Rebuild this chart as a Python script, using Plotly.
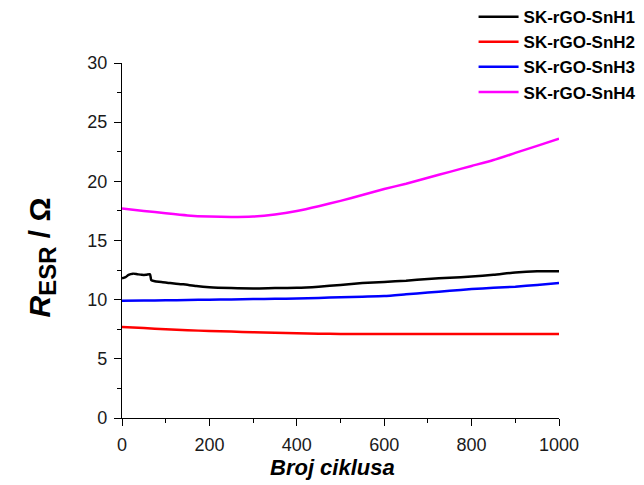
import plotly.graph_objects as go

cycles_h1 = [0, 8, 15, 25, 35, 45, 55, 64, 67, 75, 90, 110, 140, 170, 200, 250, 300, 350, 400, 450, 500, 550, 600, 650, 700, 750, 800, 850, 900, 950, 1000]
resr_h1 = [11.8, 11.9, 12.1, 12.2, 12.15, 12.1, 12.1, 12.15, 11.65, 11.55, 11.5, 11.4, 11.3, 11.15, 11.05, 10.98, 10.95, 10.98, 11.0, 11.1, 11.25, 11.4, 11.5, 11.6, 11.75, 11.85, 11.95, 12.1, 12.3, 12.4, 12.4]

cycles = [0, 50, 100, 150, 200, 250, 300, 350, 400, 450, 500, 550, 600, 650, 700, 750, 800, 850, 900, 950, 1000]
resr_h2 = [7.7, 7.6, 7.5, 7.42, 7.35, 7.3, 7.25, 7.2, 7.16, 7.13, 7.1, 7.1, 7.1, 7.1, 7.1, 7.1, 7.1, 7.1, 7.1, 7.1, 7.1]
resr_h3 = [9.9, 9.92, 9.95, 9.97, 10.0, 10.02, 10.05, 10.07, 10.1, 10.15, 10.2, 10.25, 10.3, 10.45, 10.6, 10.75, 10.9, 11.0, 11.1, 11.25, 11.4]
resr_h4 = [17.7, 17.5, 17.3, 17.12, 17.02, 16.98, 17.02, 17.2, 17.5, 17.9, 18.35, 18.85, 19.35, 19.8, 20.3, 20.8, 21.3, 21.8, 22.4, 23.0, 23.6]

names = ["SK-rGO-SnH1", "SK-rGO-SnH2", "SK-rGO-SnH3", "SK-rGO-SnH4"]
colors = ["#000000", "#ff0000", "#0000ff", "#ff00ff"]

x_title = "<b><i>Broj ciklusa</i></b>"
y_title = "<b><i>R</i><sub><span style='font-size:24px'>ESR</span></sub> / Ω</b>"

FONT = "Arial, Liberation Sans, sans-serif"

fig = go.Figure()
series = [(cycles_h1, resr_h1), (cycles, resr_h2), (cycles, resr_h3), (cycles, resr_h4)]
for (xs, ys), n, c in zip(series, names, colors):
    fig.add_trace(go.Scatter(x=xs, y=ys, mode="lines", name=n,
                             line=dict(color=c, width=2.5, shape="spline", smoothing=0.6)))

axis_common = dict(
    showline=True, linecolor="black", linewidth=1.2, mirror=False,
    ticks="outside", ticklen=7, tickwidth=1.2, tickcolor="black",
    showgrid=False, zeroline=False,
    tickfont=dict(family=FONT, size=18, color="#1a1a1a"),
)

fig.update_xaxes(range=[0, 1000], tickvals=[0, 200, 400, 600, 800, 1000],
                 minor=dict(ticks="outside", ticklen=4, tickwidth=1.2, tickcolor="black", dtick=100, tick0=0),
                 ticklabelstandoff=3, **axis_common)
fig.update_yaxes(range=[0, 30], tickvals=[0, 5, 10, 15, 20, 25, 30],
                 minor=dict(ticks="outside", ticklen=4, tickwidth=1.2, tickcolor="black", dtick=2.5, tick0=0),
                 ticklabelstandoff=3, **axis_common)

fig.add_annotation(text=x_title, xref="paper", yref="paper", x=0.5, y=0,
                   xanchor="center", yanchor="top", xshift=-8, yshift=-35, showarrow=False,
                   font=dict(family=FONT, size=22, color="black"))
fig.add_annotation(text=y_title, xref="paper", yref="paper", x=0, y=0.5, textangle=-90,
                   xanchor="right", yanchor="middle", xshift=-60, yshift=-17, showarrow=False,
                   font=dict(family=FONT, size=30, color="black"))

fig.update_layout(
    width=636, height=477,
    margin=dict(l=114, r=85, t=55, b=67, autoexpand=False),
    paper_bgcolor="white", plot_bgcolor="white",
    showlegend=True,
    legend=dict(x=0.8045, y=1.18, xanchor="left", yanchor="top",
                bgcolor="rgba(0,0,0,0)",
                font=dict(family=FONT, size=17, color="black", weight="bold"),
                itemwidth=40, tracegroupgap=0),
)

fig.write_html("out.html")
